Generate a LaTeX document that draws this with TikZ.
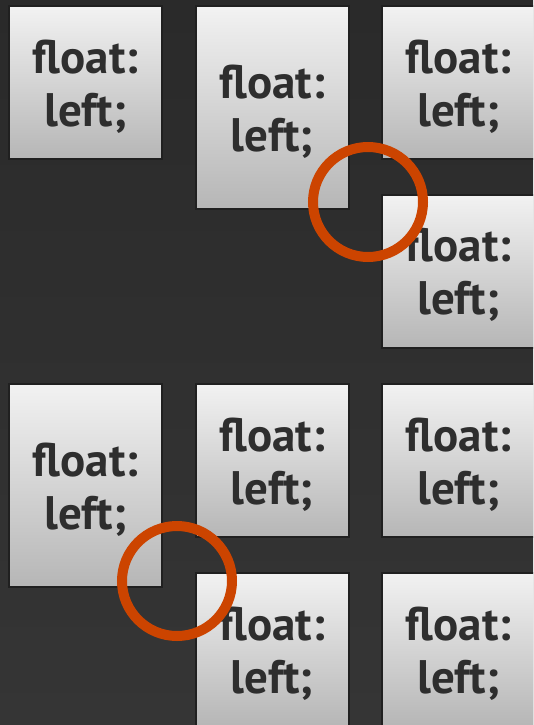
\documentclass[tikz,border=0pt]{standalone}
\usepackage{fontspec}
\setmainfont{PT Sans}
\definecolor{bgtop}{HTML}{2A2A2A}
\definecolor{bgbot}{HTML}{353535}
\definecolor{boxtop}{HTML}{F2F2F2}
\definecolor{boxbot}{HTML}{B6B6B6}
\definecolor{boxedge}{HTML}{202020}
\definecolor{txt}{HTML}{2E2E2E}
\definecolor{ring}{HTML}{CC4400}
\tikzset{
  floatbox/.style={draw=boxedge, line width=2pt, top color=boxtop, bottom color=boxbot,
    minimum width=153pt, inner sep=0pt},
  shortbox/.style={floatbox, minimum height=153pt},
  tallbox/.style={floatbox, minimum height=203pt},
  lbl/.style={text=txt, align=center, inner sep=0pt, yshift=-4pt,
    font=\fontsize{47}{53}\bfseries\selectfont},
  ring/.style={circle, draw=ring, line width=10pt, minimum size=110pt, inner sep=0pt}
}
\begin{document}
\begin{tikzpicture}[x=1pt,y=-1pt]
\useasboundingbox (0,0) rectangle (533,725);
\begin{scope}
\clip (0,0) rectangle (533,725);
\fill[top color=bgtop, bottom color=bgbot] (0,0) rectangle (533,725);
% top panel
\node[shortbox] (a) at (85.5,82.5) {};
\node[tallbox] (b) at (272,107.5) {};
\node[shortbox] (c) at (458.5,82.5) {};
\node[shortbox] (d) at (458.5,271) {};
% bottom panel
\node[tallbox] (e) at (85.5,485.5) {};
\node[shortbox] (f) at (272,460.5) {};
\node[shortbox] (g) at (458.5,460.5) {};
\node[shortbox] (h) at (272,649.5) {};
\node[shortbox] (i) at (458.5,649.5) {};
% labels
\foreach \n in {a,b,c,d,e,f,g,h,i}
  \node[lbl] (t\n) at (\n.center) {float:\\left;};
% rings
\node[ring] (r1) at (368,202) {};
\node[ring] (r2) at (177,581) {};
\end{scope}
\end{tikzpicture}
\end{document}
